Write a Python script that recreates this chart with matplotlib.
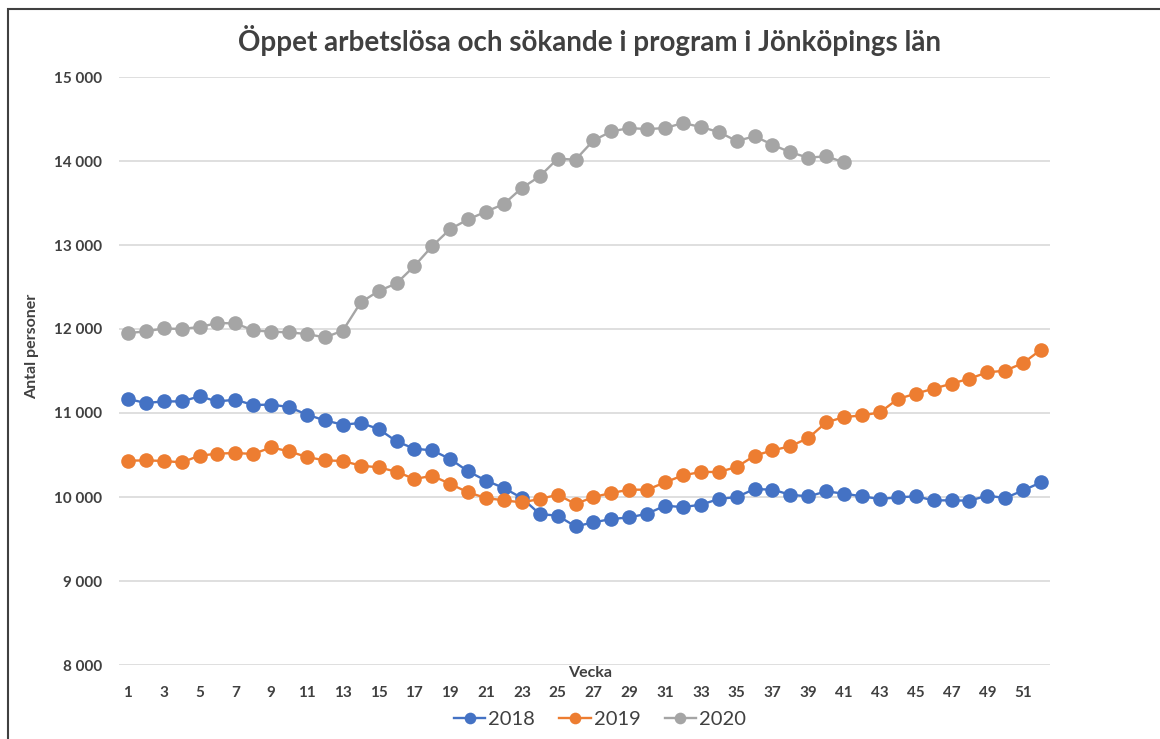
import matplotlib
matplotlib.use("Agg")
import matplotlib.pyplot as plt
from matplotlib.ticker import FuncFormatter
from matplotlib.patches import Rectangle

weeks = list(range(1, 53))
s2018 = [11167, 11119, 11138, 11138, 11198, 11138, 11158, 11095, 11100, 11071,
         10980, 10912, 10861, 10881, 10810, 10662, 10575, 10555, 10452, 10305,
         10195, 10107, 9988, 9798, 9777, 9650, 9698, 9738, 9757, 9801,
         9896, 9880, 9908, 9976, 10000, 10095, 10087, 10027, 10007, 10067,
         10040, 10008, 9976, 9996, 10008, 9960, 9960, 9956, 10016, 9988,
         10079, 10174]
s2019 = [10432, 10436, 10429, 10412, 10492, 10516, 10524, 10512, 10591, 10543,
         10476, 10436, 10429, 10373, 10353, 10301, 10214, 10253, 10155, 10055,
         9988, 9960, 9936, 9976, 10027, 9917, 10000, 10048, 10087, 10087,
         10174, 10258, 10298, 10298, 10357, 10492, 10555, 10605, 10702, 10888,
         10952, 10971, 11007, 11167, 11230, 11290, 11349, 11409, 11484, 11504,
         11595, 11754]
s2020 = [11952, 11971, 12007, 12000, 12024, 12071, 12067, 11984, 11968, 11960,
         11940, 11900, 11980, 12316, 12452, 12543, 12750, 12988, 13190, 13305,
         13397, 13488, 13679, 13817, 14027, 14016, 14245, 14352, 14392, 14380,
         14392, 14452, 14405, 14345, 14238, 14294, 14194, 14103, 14040, 14056,
         13984]
series_labels = ["2018", "2019", "2020"]
colors = ["#4472C4", "#ED7D31", "#A5A5A5"]
title = "Öppet arbetslösa och sökande i program i Jönköpings län"
xlabel = "Vecka"
ylabel = "Antal personer"
xticks = list(range(1, 53, 2))
yticks = list(range(8000, 15001, 1000))

plt.rcParams['font.family'] = ['Lato', 'DejaVu Sans']
txt = "#404040"

fig = plt.figure(figsize=(11.6, 7.39), dpi=100)
ax = fig.add_axes([119/1160, 1-665/739, (1050-119)/1160, (665-77)/739])

for data, lab, c in zip([s2018, s2019, s2020], series_labels, colors):
    ax.plot(weeks[:len(data)], data, color=c, lw=1.7, marker='o', ms=10.5,
            markeredgewidth=0, label=lab, zorder=3)

ax.set_xlim(0.5, 52.5)
ax.set_ylim(8000, 15000)
ax.set_yticks(yticks)
ax.set_xticks(xticks)
ax.yaxis.set_major_formatter(FuncFormatter(lambda v, p: f"{int(v):,}".replace(",", " ")))
ax.grid(axis='y', color='#D9D9D9', lw=1.2, zorder=0)
for s in ax.spines.values():
    s.set_visible(False)
ax.tick_params(axis='both', length=0, colors=txt, labelsize=11)
ax.tick_params(axis='y', pad=12)
ax.tick_params(axis='x', pad=15)
for t in ax.get_xticklabels() + ax.get_yticklabels():
    t.set_fontweight('bold')

fig.text(590/1160, 1-673/739, xlabel, ha='center', va='center', fontsize=11.5,
         fontweight='bold', color=txt)
fig.text(32/1160, 1-346/739, ylabel, ha='center', va='center', rotation=90,
         fontsize=11.5, fontweight='bold', color=txt)
fig.text(590/1160, 1-40/739, title, ha='center', va='center', fontsize=20,
         fontweight='bold', color=txt)

leg = ax.legend(loc='center', bbox_to_anchor=(600/1160, 1-719/739),
                bbox_transform=fig.transFigure, ncol=3, frameon=False,
                fontsize=14.5, handlelength=1.55, handletextpad=0.15,
                columnspacing=1.2, markerscale=0.8)
for t in leg.get_texts():
    t.set_color(txt)

fig.patches.append(Rectangle((8/1160, -0.1), 1.2, 1 - 9.5/739 + 0.1,
                             transform=fig.transFigure, fill=False,
                             edgecolor='#404040', lw=1.5))

fig.savefig("out.png", dpi=100)
